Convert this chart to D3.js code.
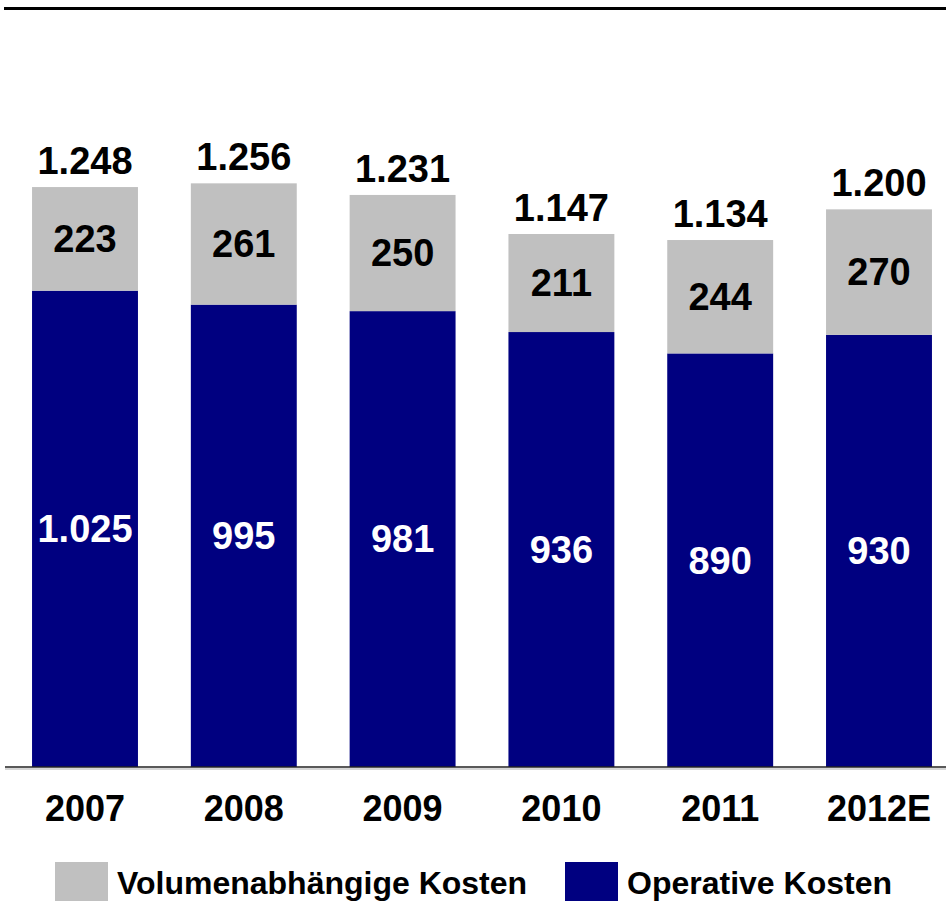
<!DOCTYPE html>
<html>
<head>
<meta charset="utf-8">
<script src="https://cdn.jsdelivr.net/npm/d3@7"></script>
<style>
  html, body { margin: 0; padding: 0; background: #fff; }
  svg { display: block; }
  text { font-family: "Liberation Sans", Arial, sans-serif; font-weight: bold; }
</style>
</head>
<body>
<svg id="chart" width="946" height="901"></svg>
<script>
// Kostenentwicklung nach Jahren (Werte in Mio.)
const years = ["2007", "2008", "2009", "2010", "2011", "2012E"];
const operativeKosten = [1025, 995, 981, 936, 890, 930];
const volumenKosten = [223, 261, 250, 211, 244, 270];
const totalLabels = ["1.248", "1.256", "1.231", "1.147", "1.134", "1.200"];
const operativeLabels = ["1.025", "995", "981", "936", "890", "930"];
const volumenLabels = ["223", "261", "250", "211", "244", "270"];
const legendLabels = ["Volumenabhängige Kosten", "Operative Kosten"];

const colors = { volumen: "#c0c0c0", operativ: "#000080" };

const W = 946, H = 901;
const baseY = 767;
const svg = d3.select("#chart");

const x = d3.scaleBand()
  .domain(years)
  .range([5.6, 958.4])
  .paddingInner(0.333)
  .paddingOuter(0.1665);

const y = d3.scaleLinear()
  .domain([0, 1400])
  .range([baseY, baseY - 0.4647 * 1400]);

const rows = years.map((yr, i) => ({
  year: yr,
  op: operativeKosten[i],
  vol: volumenKosten[i],
  total: operativeKosten[i] + volumenKosten[i],
  totalLabel: totalLabels[i],
  opLabel: operativeLabels[i],
  volLabel: volumenLabels[i]
}));

// top rule
svg.append("rect").attr("x", 4).attr("y", 7).attr("width", W - 4).attr("height", 3).attr("fill", "#000");

const g = svg.append("g");

// operative Kosten (bottom segment)
g.selectAll("rect.op").data(rows).join("rect")
  .attr("class", "op")
  .attr("x", d => x(d.year))
  .attr("width", x.bandwidth())
  .attr("y", d => y(d.op))
  .attr("height", d => y(0) - y(d.op))
  .attr("fill", colors.operativ);

// volumenabhängige Kosten (top segment)
g.selectAll("rect.vol").data(rows).join("rect")
  .attr("class", "vol")
  .attr("x", d => x(d.year))
  .attr("width", x.bandwidth())
  .attr("y", d => y(d.total))
  .attr("height", d => y(d.op) - y(d.total))
  .attr("fill", colors.volumen);

// segment labels
g.selectAll("text.opl").data(rows).join("text")
  .attr("x", d => x(d.year) + x.bandwidth() / 2)
  .attr("y", d => (y(0) + y(d.op)) / 2)
  .attr("dy", "0.35em")
  .attr("text-anchor", "middle")
  .attr("font-size", 38)
  .attr("fill", "#fff")
  .text(d => d.opLabel);

g.selectAll("text.voll").data(rows).join("text")
  .attr("x", d => x(d.year) + x.bandwidth() / 2)
  .attr("y", d => (y(d.op) + y(d.total)) / 2)
  .attr("dy", "0.35em")
  .attr("text-anchor", "middle")
  .attr("font-size", 38)
  .attr("fill", "#000")
  .text(d => d.volLabel);

// totals above bars
g.selectAll("text.tot").data(rows).join("text")
  .attr("x", d => x(d.year) + x.bandwidth() / 2)
  .attr("y", d => y(d.total) - 13)
  .attr("text-anchor", "middle")
  .attr("font-size", 38)
  .attr("fill", "#000")
  .text(d => d.totalLabel);

// baseline
svg.append("line").attr("x1", 5).attr("x2", W).attr("y1", baseY + 0.5).attr("y2", baseY + 0.5)
  .attr("stroke", "#c8c8c8").attr("stroke-width", 1.5).attr("transform", "translate(0,1.5)");
svg.append("line").attr("x1", 5).attr("x2", W).attr("y1", baseY).attr("y2", baseY)
  .attr("stroke", "#222").attr("stroke-width", 1.6);

// x axis labels
const xAxis = d3.axisBottom(x).tickSize(0).tickPadding(0);
const ax = svg.append("g").attr("transform", `translate(0,${baseY})`).call(xAxis);
ax.select(".domain").remove();
ax.selectAll("text")
  .attr("y", 54)
  .attr("dy", 0)
  .attr("font-size", 36)
  .attr("font-family", "Liberation Sans, Arial, sans-serif")
  .attr("font-weight", "bold")
  .attr("fill", "#000");

// legend
const legend = [
  { label: legendLabels[0], color: colors.volumen, x: 55 },
  { label: legendLabels[1], color: colors.operativ, x: 565 }
];
const lg = svg.append("g");
lg.selectAll("rect").data(legend).join("rect")
  .attr("x", d => d.x).attr("y", 862).attr("width", 53).attr("height", 45)
  .attr("fill", d => d.color);
lg.selectAll("text").data(legend).join("text")
  .attr("x", d => d.x + 62).attr("y", 894)
  .attr("font-size", 32)
  .attr("fill", "#000")
  .text(d => d.label);
</script>
</body>
</html>
